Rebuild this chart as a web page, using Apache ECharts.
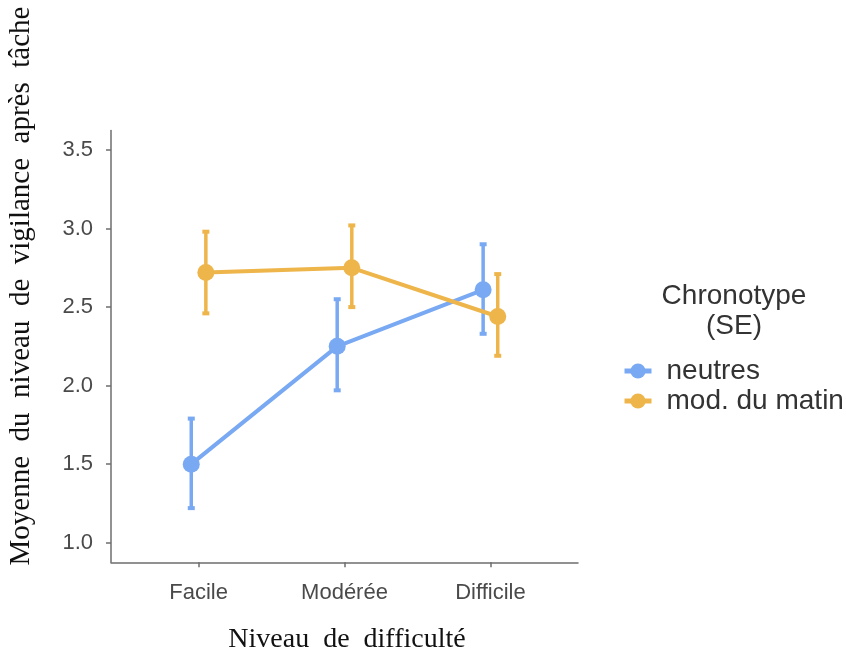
<!DOCTYPE html>
<html>
<head>
<meta charset="utf-8">
<script src="https://cdn.jsdelivr.net/npm/echarts@6/dist/echarts.min.js"></script>
<style>html,body{margin:0;padding:0;background:#fff}#c{width:846px;height:655px}</style>
</head>
<body>
<div id="c"></div>
<script>
const categories = ['Facile', 'Modérée', 'Difficile'];
const seriesNames = ['neutres', 'mod. du matin'];
const neutresMean = [1.50, 2.25, 2.61];
const neutresLow = [1.22, 1.97, 2.33];
const neutresHigh = [1.79, 2.55, 2.90];
const matinMean = [2.72, 2.75, 2.44];
const matinLow = [2.46, 2.50, 2.19];
const matinHigh = [2.98, 3.02, 2.71];
const yTicks = [1.0, 1.5, 2.0, 2.5, 3.0, 3.5];

const colors = ['#78A9F2', '#EEB54B'];
const dodge = 0.05;

function pts(mean, off) { return mean.map((v, i) => [i + 1 + off, v]); }
function errData(low, high, off) { return low.map((l, i) => [i + 1 + off, l, high[i]]); }

function errSeries(name, data, color) {
  return {
    type: 'custom', name: name, z: 3,
    renderItem: function (params, api) {
      const x = api.value(0);
      const lo = api.coord([x, api.value(1)]);
      const hi = api.coord([x, api.value(2)]);
      const cw = 3.5;
      const st = { stroke: color, lineWidth: 3.5 };
      const cap = { stroke: color, lineWidth: 4 };
      return { type: 'group', children: [
        { type: 'line', shape: { x1: lo[0], y1: lo[1], x2: hi[0], y2: hi[1] }, style: st },
        { type: 'line', shape: { x1: lo[0] - cw, y1: lo[1], x2: lo[0] + cw, y2: lo[1] }, style: cap },
        { type: 'line', shape: { x1: hi[0] - cw, y1: hi[1], x2: hi[0] + cw, y2: hi[1] }, style: cap }
      ]};
    },
    encode: { x: 0, y: [1, 2] },
    data: data
  };
}

const chart = echarts.init(document.getElementById('c'), null, { renderer: 'canvas' });
const axisCol = '#6e6e6e';
chart.setOption({
  animation: false,
  color: colors,
  grid: { left: 111, top: 130.4, right: 268, bottom: 92.7 },
  xAxis: {
    type: 'value', min: 0.4, max: 3.6,
    splitLine: { show: false },
    axisLine: { lineStyle: { color: axisCol, width: 1.5 } },
    axisTick: { show: true, length: 5, customValues: [1, 2, 3], lineStyle: { color: axisCol, width: 1.5 } },
    axisLabel: {
      customValues: [1, 2, 3], margin: 20,
      formatter: v => categories[Math.round(v) - 1],
      fontFamily: 'Liberation Sans', fontSize: 22, color: '#4a4a4a'
    }
  },
  yAxis: {
    type: 'value', min: 0.875, max: 3.625,
    splitLine: { show: false },
    axisLine: { show: true, lineStyle: { color: axisCol, width: 1.5 } },
    axisTick: { show: true, length: 5, customValues: yTicks, lineStyle: { color: axisCol, width: 1.5 } },
    axisLabel: {
      customValues: yTicks, margin: 18,
      formatter: v => v.toFixed(1),
      fontFamily: 'Liberation Sans', fontSize: 22, color: '#4a4a4a', padding: [3, 0, 0, 0]
    }
  },
  legend: {
    orient: 'vertical', left: 617, top: 352,
    itemWidth: 27, itemHeight: 19, itemGap: 2,
    lineStyle: { width: 5 },
    data: seriesNames,
    textStyle: { fontFamily: 'Liberation Sans', fontSize: 28, color: '#333', padding: [0, 0, 0, 10] }
  },
  graphic: [
    { type: 'text', x: 734, y: 311, style: { text: 'Chronotype\n(SE)', fontFamily: 'Liberation Sans', fontSize: 28, lineHeight: 30, fill: '#333', align: 'center', verticalAlign: 'middle' } },
    { type: 'text', x: 347, y: 640, style: { text: 'Niveau  de  difficulté', fontFamily: 'Liberation Serif', fontSize: 28, fill: '#111', align: 'center', verticalAlign: 'middle' } },
    { type: 'text', x: 21, y: 286, rotation: Math.PI / 2, style: { text: 'Moyenne  du  niveau  de  vigilance  après  tâche', fontFamily: 'Liberation Serif', fontSize: 29, fill: '#111', align: 'center', verticalAlign: 'middle' } }
  ],
  series: [
    { name: seriesNames[0], type: 'line', data: pts(neutresMean, -dodge), symbol: 'circle', symbolSize: 17, lineStyle: { width: 4 }, itemStyle: { color: colors[0] }, z: 4 },
    { name: seriesNames[1], type: 'line', data: pts(matinMean, dodge), symbol: 'circle', symbolSize: 17, lineStyle: { width: 4 }, itemStyle: { color: colors[1] }, z: 4 },
    errSeries(seriesNames[0], errData(neutresLow, neutresHigh, -dodge), colors[0]),
    errSeries(seriesNames[1], errData(matinLow, matinHigh, dodge), colors[1])
  ]
});
</script>
</body>
</html>
